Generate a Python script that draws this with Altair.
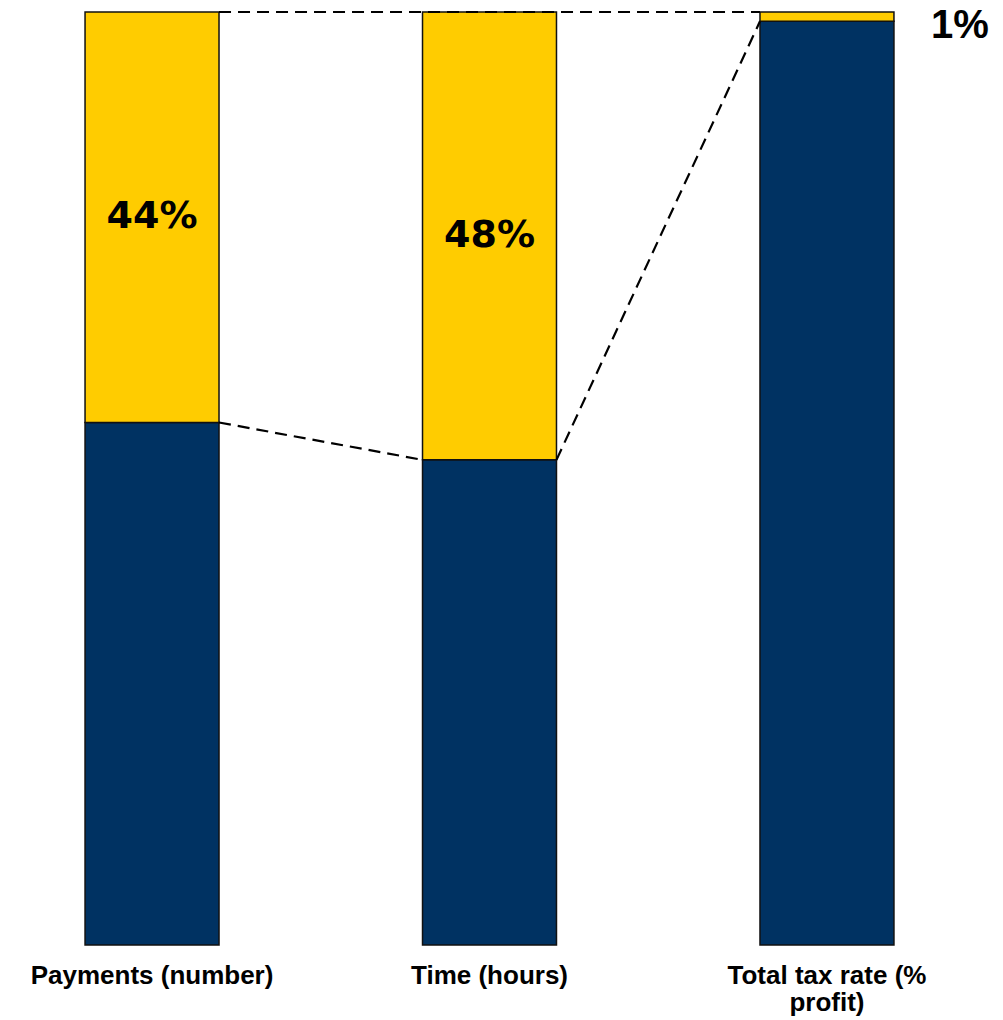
import altair as alt
import pandas as pd

categories = ["Payments (number)", "Time (hours)", "Total tax rate (% profit)"]
base_values = [56, 52, 99]
share_values = [44, 48, 1]
share_labels = ["44%", "48%", "1%"]

rows = []
for c, b, s, lab in zip(categories, base_values, share_values, share_labels):
    rows.append({"cat": c, "series": "base", "value": b, "order": 0, "lo": 0, "hi": b, "label": ""})
    rows.append({"cat": c, "series": "share", "value": s, "order": 1, "lo": b, "hi": b + s, "label": lab})
df = pd.DataFrame(rows)

conn = pd.DataFrame({
    "from": [categories[0], categories[0], categories[1]],
    "to": [categories[2], categories[1], categories[2]],
    "y1": [100, base_values[0], base_values[1]],
    "y2": [100, base_values[1], base_values[2]],
})

xscale = alt.Scale(domain=categories, paddingInner=0.603, paddingOuter=0.252)
yscale = alt.Scale(domain=[0, 100])

label_expr = "datum.label == 'Total tax rate (% profit)' ? ['Total tax rate (%', 'profit)'] : datum.label"

bars = alt.Chart(df).mark_bar(stroke="#111111", strokeWidth=1.5).encode(
    x=alt.X("cat:N", scale=xscale, sort=categories, title=None,
            axis=alt.Axis(labelAngle=0, domain=False, ticks=False, labelFont="Liberation Sans",
                          labelFontWeight="bold", labelFontSize=26, labelColor="black",
                          labelPadding=17, labelLineHeight=27, labelExpr=label_expr, labelLimit=400)),
    y=alt.Y("lo:Q", scale=yscale, axis=None),
    y2="hi:Q",
    color=alt.Color("series:N", scale=alt.Scale(domain=["base", "share"], range=["#003262", "#FFCC00"]), legend=None),
)

rules = alt.Chart(conn).mark_rule(color="black", strokeWidth=2.2, strokeDash=[12, 7]).encode(
    x=alt.X("from:N", scale=xscale, sort=categories, bandPosition=1),
    x2=alt.X2("to:N", bandPosition=0),
    y=alt.Y("y1:Q", scale=yscale),
    y2="y2:Q",
)

inner = alt.Chart(df).transform_filter("datum.series == 'share' && datum.value >= 5").transform_calculate(
    mid="(datum.lo + datum.hi) / 2"
).mark_text(font="DejaVu Sans", fontWeight="bold", fontSize=38, color="black", baseline="middle").encode(
    x=alt.X("cat:N", scale=xscale, sort=categories),
    y=alt.Y("mid:Q", scale=yscale),
    text="label:N",
)

outer = alt.Chart(df).transform_filter("datum.series == 'share' && datum.value < 5").mark_text(
    font="Liberation Sans", fontWeight="bold", fontSize=40, color="black", baseline="middle", align="left", dx=37, dy=14
).encode(
    x=alt.X("cat:N", scale=xscale, sort=categories, bandPosition=1),
    y=alt.Y("hi:Q", scale=yscale),
    text="label:N",
)

chart = alt.layer(bars, rules, inner, outer).properties(
    width=979, height=933,
    padding={"left": 0, "top": 12, "right": 24, "bottom": 75},
    autosize=alt.AutoSizeParams(type="none"),
).configure_view(stroke=None)

chart.save("out.html", embed_options={"renderer": "svg", "actions": False})
